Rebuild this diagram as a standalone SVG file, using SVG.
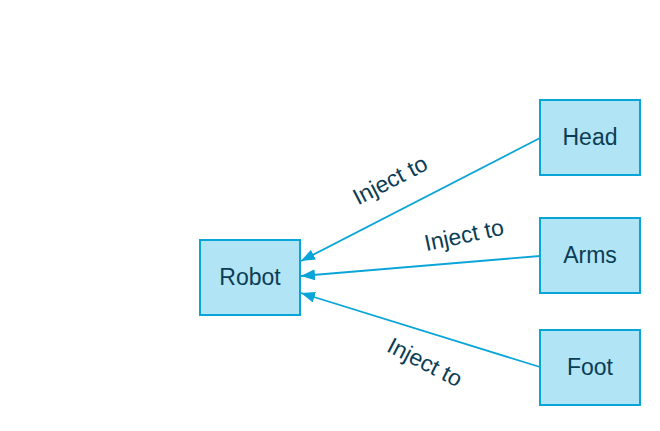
<svg xmlns="http://www.w3.org/2000/svg" width="660" height="431" viewBox="0 0 660 431">
<style>
.node rect{fill:#b1e4f4;stroke:#0aa5d8;stroke-width:2}
text{font-family:"Liberation Sans",Arial,sans-serif;font-size:23px;fill:#0b3d55;text-anchor:middle;dominant-baseline:central}
.edge{stroke:#0aa5d8;stroke-width:1.8;fill:none;marker-end:url(#arr)}
</style>
<defs>
<marker id="arr" viewBox="0 0 14 11" refX="14" refY="5.5" markerWidth="14" markerHeight="11" markerUnits="userSpaceOnUse" orient="auto">
<path d="M0,0 L14,5.5 L0,11 Z" fill="#0aa5d8"/>
</marker>
</defs>
<rect width="660" height="431" fill="#ffffff"/>
<g id="connectors">
<path class="edge" d="M540,138 L301,261"/>
<path class="edge" d="M540,256 L301,276"/>
<path class="edge" d="M540,367 L301,293"/>
<text transform="translate(390,180) rotate(-27.3)">Inject to</text>
<text transform="translate(464,235) rotate(-12)">Inject to</text>
<text transform="translate(425,362) rotate(27.3)">Inject to</text>
</g>
<g id="robot" class="node"><rect x="200" y="240" width="100" height="75"/><text x="250" y="277">Robot</text></g>
<g id="head" class="node"><rect x="540" y="100" width="100" height="75"/><text x="590" y="137">Head</text></g>
<g id="arms" class="node"><rect x="540" y="218" width="100" height="75"/><text x="590" y="255">Arms</text></g>
<g id="foot" class="node"><rect x="540" y="330" width="100" height="75"/><text x="590" y="367">Foot</text></g>
</svg>
